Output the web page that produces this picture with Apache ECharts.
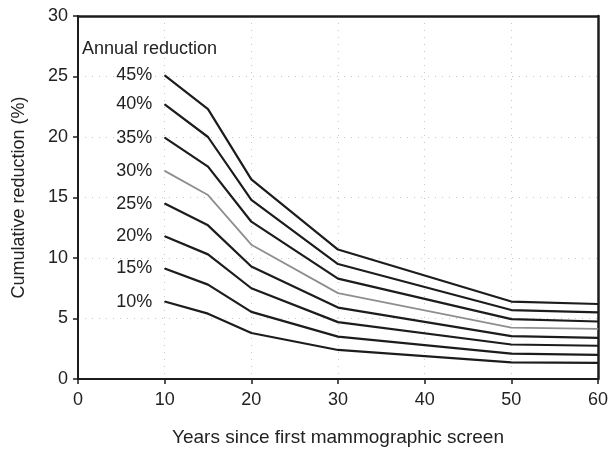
<!DOCTYPE html>
<html>
<head>
<meta charset="utf-8">
<script src="https://cdn.jsdelivr.net/npm/echarts@6/dist/echarts.min.js"></script>
<style>html,body{margin:0;padding:0;background:#fff}#c{width:611px;height:452px}</style>
</head>
<body>
<div id="c"></div>
<script>
var years = [10, 15, 20, 30, 50, 60];
var seriesNames = ['45%', '40%', '35%', '30%', '25%', '20%', '15%', '10%'];
var r45 = [25.1, 22.3, 16.5, 10.7, 6.4, 6.2];
var r40 = [22.7, 20.0, 14.8, 9.5, 5.7, 5.5];
var r35 = [19.95, 17.55, 13.0, 8.3, 4.95, 4.75];
var r30 = [17.2, 15.2, 11.1, 7.1, 4.25, 4.15];
var r25 = [14.5, 12.7, 9.3, 5.9, 3.55, 3.4];
var r20 = [11.8, 10.3, 7.5, 4.7, 2.85, 2.75];
var r15 = [9.13, 7.8, 5.55, 3.5, 2.1, 2.0];
var r10 = [6.4, 5.4, 3.8, 2.4, 1.37, 1.33];
var allValues = [r45, r40, r35, r30, r25, r20, r15, r10];
var xTicks = [0, 10, 20, 30, 40, 50, 60];
var yTicks = [0, 5, 10, 15, 20, 25, 30];

var font = 'Liberation Sans, Arial, sans-serif';
var FS = 18;
var series = seriesNames.map(function (name, i) {
  var isGray = name === '30%';
  var col = isGray ? '#8e8e8e' : '#1c1c1c';
  return {
    name: name,
    type: 'line',
    symbol: 'circle',
    symbolSize: 1,
    showSymbol: true,
    silent: true,
    animation: false,
    itemStyle: { color: col },
    lineStyle: { color: col, width: isGray ? 1.8 : 2.2 },
    data: years.map(function (y, j) {
      var d = { value: [y, allValues[i][j]] };
      if (j === 0) {
        d.label = {
          show: true, position: 'left', distance: 12,
          formatter: name, color: '#222', fontSize: FS, fontFamily: font
        };
      }
      return d;
    })
  };
});

var chart = echarts.init(document.getElementById('c'));
chart.setOption({
  animation: false,
  title: {
    text: 'Annual reduction', left: 82, top: 40, padding: 0,
    textStyle: { fontWeight: 'normal', fontSize: FS, color: '#222', fontFamily: font }
  },
  grid: { left: 78, right: 10, top: 16, bottom: 68 },
  xAxis: [{
    type: 'value', min: 0, max: 60, interval: 10,
    name: 'Years since first mammographic screen', nameLocation: 'middle', nameGap: 49,
    nameTextStyle: { fontSize: 19, color: '#222', fontFamily: font },
    axisLine: { show: true, lineStyle: { color: '#1c1c1c', width: 2 } },
    axisTick: { show: true, length: 5, lineStyle: { color: '#1c1c1c', width: 1.5 } },
    axisLabel: { fontSize: FS, color: '#222', fontFamily: font, margin: 12 },
    splitLine: { show: true, lineStyle: { color: '#c8c8c8', type: [1, 6], width: 1 } }
  }, {
    type: 'value', min: 0, max: 60, interval: 10, position: 'top',
    axisLine: { show: true, onZero: false, lineStyle: { color: '#1c1c1c', width: 2.5 } },
    axisTick: { show: false }, axisLabel: { show: false }, splitLine: { show: false }
  }],
  yAxis: [{
    type: 'value', min: 0, max: 30, interval: 5,
    name: 'Cumulative reduction (%)', nameLocation: 'middle', nameGap: 50, nameRotate: 90,
    nameTextStyle: { fontSize: FS, color: '#222', fontFamily: font },
    axisLine: { show: true, lineStyle: { color: '#1c1c1c', width: 2 } },
    axisTick: { show: true, length: 5, lineStyle: { color: '#1c1c1c', width: 1.5 } },
    axisLabel: { fontSize: FS, color: '#222', fontFamily: font, margin: 10 },
    splitLine: { show: true, lineStyle: { color: '#c8c8c8', type: [1, 6], width: 1 } }
  }, {
    type: 'value', min: 0, max: 30, interval: 5, position: 'right',
    axisLine: { show: true, onZero: false, lineStyle: { color: '#1c1c1c', width: 2.5 } },
    axisTick: { show: false }, axisLabel: { show: false }, splitLine: { show: false }
  }],
  series: series
});
</script>
</body>
</html>
